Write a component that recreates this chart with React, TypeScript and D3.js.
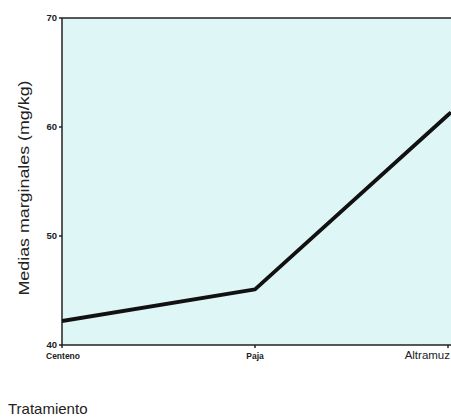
import React from "react";
import * as d3 from "d3";

const categories = ["Centeno", "Paja", "Altramuz"];
const values = [42.2, 45.1, 61.1];
const yTicks = [40, 50, 60, 70];

export default function App() {
  const W = 451, H = 420;
  const left = 62, right = 448, top = 18, bottom = 345;
  const x = d3.scalePoint<string>().domain(categories).range([left, right]);
  const y = d3.scaleLinear().domain([40, 70]).range([bottom, top]);
  const ext = values[2] + (values[2] - values[1]) * ((W - right) / (right - (x("Paja") as number)));
  const line = d3.line<number>()
    .x((_, i) => (i < 3 ? (x(categories[i]) as number) : W))
    .y((d) => y(d));
  return (
    <svg width={W} height={H} style={{ position: "absolute", left: 0, top: 0 }}
      fontFamily="Liberation Sans, Arial, sans-serif">
      <defs>
        <clipPath id="clip">
          <rect x={left} y={top} width={W - left} height={bottom - top} />
        </clipPath>
      </defs>
      <rect x={left} y={top} width={W - left} height={bottom - top} fill="#dff6f7" />
      <line x1={left} x2={W} y1={top} y2={top} stroke="#222" strokeWidth={1.5} />
      <line x1={left} x2={left} y1={top} y2={bottom} stroke="#222" strokeWidth={1.5} />
      <line x1={left} x2={W} y1={bottom} y2={bottom} stroke="#222" strokeWidth={1.5} />
      {yTicks.map((t) => (
        <g key={t}>
          <line x1={left - 3} x2={left} y1={y(t)} y2={y(t)} stroke="#222" strokeWidth={1.5} />
          <text x={left - 5} y={y(t)} dy="0.35em" textAnchor="end" fontSize={9.5}
            fontWeight="bold" fill="#222">{t}</text>
        </g>
      ))}
      {categories.map((c, i) => (
        <g key={c}>
          <line x1={x(c)} x2={x(c)} y1={bottom} y2={bottom + 3} stroke="#222" strokeWidth={1.5} />
          <text x={i === 2 ? W - 1 : (x(c) as number) + (i === 0 ? 1 : 0)} y={bottom + 14}
            textAnchor={i === 2 ? "end" : "middle"}
            fontSize={i === 2 ? 11.5 : 8.5} fontWeight={i === 2 ? "normal" : "bold"} fill="#222">{c}</text>
        </g>
      ))}
      <path d={line([...values, ext]) as string} fill="none" stroke="#111" strokeWidth={3.8}
        strokeLinejoin="round" clipPath="url(#clip)" />
      <text transform={`translate(29,188) rotate(-90)`} textAnchor="middle"
        fontSize={14} textLength={215} lengthAdjust="spacingAndGlyphs" fill="#222">Medias marginales (mg/kg)</text>
      <text x={8} y={414} fontSize={15} fill="#222">Tratamiento</text>
    </svg>
  );
}
